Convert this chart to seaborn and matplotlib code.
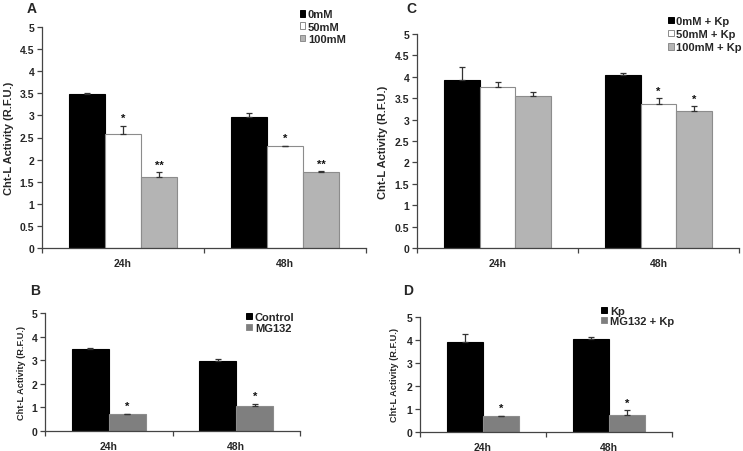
import matplotlib
matplotlib.use('Agg')
import matplotlib.pyplot as plt
import seaborn as sns
import pandas as pd
from matplotlib.patches import Patch
from matplotlib.ticker import MultipleLocator, FixedLocator, FuncFormatter, NullFormatter

sns.set_theme(style='white')
plt.rcParams['font.family'] = ['Liberation Sans', 'DejaVu Sans']
plt.rcParams['font.weight'] = 'bold'

times = ['24h', '48h']

# Panel A
a_labels = ['0mM', '50mM', '100mM']
a_values = [[3.48, 2.97], [2.58, 2.30], [1.60, 1.73]]
a_errors = [[0.03, 0.08], [0.19, 0.01], [0.11, 0.01]]
a_stars = [['', ''], ['*', '*'], ['**', '**']]

# Panel B
b_labels = ['Control', 'MG132']
b_values = [[3.47, 2.97], [0.72, 1.04]]
b_errors = [[0.03, 0.07], [0.02, 0.10]]
b_stars = [['', ''], ['*', '*']]

# Panel C
c_labels = ['0mM + Kp', '50mM + Kp', '100mM + Kp']
c_values = [[3.93, 4.04], [3.76, 3.37], [3.56, 3.21]]
c_errors = [[0.31, 0.06], [0.11, 0.13], [0.08, 0.10]]
c_stars = [['', ''], ['', '*'], ['', '*']]

# Panel D
d_labels = ['Kp', 'MG132 + Kp']
d_values = [[3.93, 4.05], [0.68, 0.75]]
d_errors = [[0.33, 0.06], [0.02, 0.19]]
d_stars = [['', ''], ['*', '*']]

y_label = 'Cht-L Activity (R.F.U.)'

BLACK = '#000000'
WHITE = '#ffffff'
LGRAY = '#b4b4b4'
DGRAY = '#7f7f7f'
EDGE = '#8c8c8c'

W, H = 743, 452
fig = plt.figure(figsize=(W / 100, H / 100), dpi=100)


def frac_rect(l, r, t, b):
    return [l / W, 1 - b / H, (r - l) / W, (b - t) / H]


def panel(rect, labels, values, errors, stars, colors, edges, width, ystep,
          ylab_x, ylab_size, leg_anchor, leg_spacing, star_off):
    ax = fig.add_axes(rect)
    rows = []
    for lab, vals in zip(labels, values):
        for t, v in zip(times, vals):
            rows.append({'time': t, 'group': lab, 'value': v})
    df = pd.DataFrame(rows)
    pal = dict(zip(labels, colors))
    sns.barplot(data=df, x='time', y='value', hue='group', order=times,
                hue_order=labels, palette=pal, width=width, errorbar=None,
                saturation=1, legend=False, ax=ax)
    for cont, ec, errs, sts in zip(ax.containers, edges, errors, stars):
        xs, tops = [], []
        for bar, e, s in zip(cont, errs, sts):
            bar.set_edgecolor(ec)
            bar.set_linewidth(0.8)
            x = bar.get_x() + bar.get_width() / 2
            h = bar.get_height()
            xs.append(x)
            tops.append(h)
            if s:
                ax.text(x, h + e + star_off, s, ha='center', va='bottom',
                        fontsize=8, fontweight='bold', color='#111111')
        ax.errorbar(xs, tops, yerr=[[0] * len(errs), errs], fmt='none',
                    ecolor='#333333', elinewidth=0.9, capsize=2.2,
                    capthick=0.9, zorder=5)
    ax.set_xlim(-0.5, 1.5)
    ax.set_ylim(0, 5)
    ax.yaxis.set_major_locator(MultipleLocator(ystep))
    ax.yaxis.set_major_formatter(FuncFormatter(lambda v, _: f'{v:g}'))
    ax.xaxis.set_minor_locator(FixedLocator([-0.5, 0.5, 1.5]))
    ax.xaxis.set_minor_formatter(NullFormatter())
    ax.tick_params(axis='x', which='major', length=0, pad=7, labelsize=7.5)
    ax.tick_params(axis='x', which='minor', length=3.5, width=0.9,
                   direction='out', color='#444444', bottom=True)
    ax.tick_params(axis='y', which='major', length=3.5, width=0.9,
                   direction='out', color='#444444', pad=2, labelsize=7.5, left=True)
    for lab in ax.get_xticklabels() + ax.get_yticklabels():
        lab.set_fontweight('bold')
    for side in ['top', 'right']:
        ax.spines[side].set_visible(False)
    for side in ['left', 'bottom']:
        ax.spines[side].set_color('#444444')
        ax.spines[side].set_linewidth(0.9)
    ax.set_xlabel('')
    ax.set_ylabel(y_label, fontsize=ylab_size, fontweight='bold')
    ax.yaxis.set_label_coords(ylab_x, 0.5)
    handles = [Patch(facecolor=c, edgecolor=ec, linewidth=0.7)
               for c, ec in zip(colors, edges)]
    ax.legend(handles, labels, loc='upper left', bbox_to_anchor=leg_anchor,
              frameon=False, handlelength=0.5, handleheight=0.5,
              handletextpad=0.25, labelspacing=leg_spacing, borderaxespad=0,
              borderpad=0, prop={'weight': 'bold', 'size': 8})
    return ax


panel(frac_rect(42, 366, 28, 249), a_labels, a_values, a_errors, a_stars,
      [BLACK, WHITE, LGRAY], [BLACK, EDGE, EDGE], 0.67, 0.5,
      -0.085, 8, (0.795, 1.08), 0.2, 0.06)
panel(frac_rect(417, 739, 35, 249), c_labels, c_values, c_errors, c_stars,
      [BLACK, WHITE, LGRAY], [BLACK, EDGE, EDGE], 0.66, 0.5,
      -0.09, 8, (0.78, 1.085), 0.3, 0.06)
panel(frac_rect(45, 300, 314, 432), b_labels, b_values, b_errors, b_stars,
      [BLACK, DGRAY], [BLACK, EDGE], 0.58, 1,
      -0.075, 6.6, (0.79, 1.01), 0.1, 0.12)
panel(frac_rect(420, 672, 318, 433), d_labels, d_values, d_errors, d_stars,
      [BLACK, DGRAY], [BLACK, EDGE], 0.57, 1,
      -0.085, 6.6, (0.72, 1.095), 0.0, 0.12)

for txt, x, y in [('A', 32, 9), ('B', 35, 291), ('C', 411, 9), ('D', 408, 291)]:
    fig.text(x / W, 1 - y / H, txt, ha='center', va='center', fontsize=10,
             fontweight='bold')

fig.savefig('out.png', dpi=100)
